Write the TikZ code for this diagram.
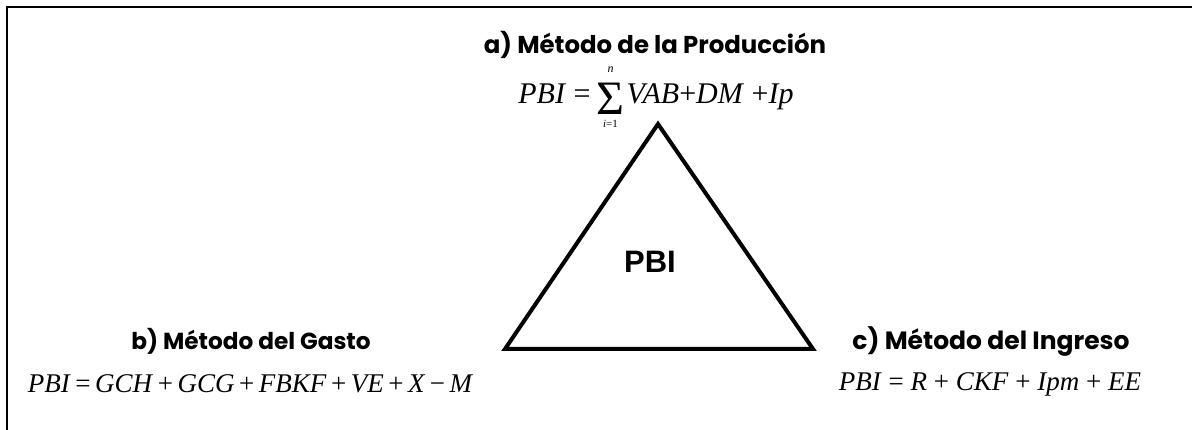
\documentclass[tikz,border=0pt]{standalone}
\usepackage{fontspec}
\setmainfont{Liberation Serif}
\newfontfamily\headfont{Poppins}
\newfontfamily\pbifont{Liberation Sans}
\newcommand\up[1]{\textup{#1}}
\newcommand\gsp{\hspace{4.5pt}}
\newcommand\limsum[2]{\leavevmode
  \setbox0\hbox{\upshape\fontsize{48}{48}\selectfont Σ}%
  \rlap{\hbox to \wd0{\hss\raisebox{31pt}{\fontsize{12}{12}\selectfont\itshape #2}\hss}}%
  \rlap{\hbox to \wd0{\hss\raisebox{-24pt}{\fontsize{11}{11}\selectfont\itshape i\upshape=#1}\hss}}%
  \raisebox{-11pt}{\box0}}
\tikzset{
  titletext/.style={font=\headfont\bfseries\fontsize{#1}{26}\selectfont, anchor=base, inner sep=0pt},
  formula/.style={font=\fontsize{#1}{30}\selectfont\itshape, anchor=base, inner sep=0pt},
  tri/.style={line width=4pt, line join=miter},
  frameline/.style={line width=2.2pt}
}
\begin{document}
\begin{tikzpicture}[x=1pt,y=-1pt]
\useasboundingbox (0,0) rectangle (1192,430);
\coordinate (fbl) at (7,430);
\coordinate (ftl) at (7,7);
\coordinate (ftr) at (1192,7);
\draw[frameline] (fbl) -- (ftl) -- (ftr);

\coordinate (top) at (658,124);
\coordinate (bl) at (505,349);
\coordinate (br) at (813,349);
\draw[tri] (top) -- (bl) -- (br) -- cycle;

\node[font=\pbifont\bfseries\fontsize{31}{36}\selectfont, anchor=base, inner sep=0pt] (pbi) at (650,273) {PBI};

\node[titletext=24.4] (ta) at (655,54) {a) Método de la Producción};
\node[formula=30] (fa) at (656,104) {PBI \up{=}\hspace{6pt}\limsum{1}{n}\hspace{2pt}VAB\up{+}DM \up{+}Ip};

\node[titletext=23.2] (tb) at (251,350) {b) Método del Gasto};
\node[formula=27] (fb) at (250,392) {PBI\gsp\up{=}\gsp GCH\gsp\up{+}\gsp GCG\gsp\up{+}\gsp FBKF\gsp\up{+}\gsp VE\gsp\up{+}\gsp X\gsp\up{−}\gsp M};

\node[titletext=25] (tc) at (991,350) {c) Método del Ingreso};
\node[formula=27] (fc) at (990,391) {PBI \up{=} R \up{+} CKF \up{+} Ipm \up{+} EE};
\end{tikzpicture}
\end{document}
